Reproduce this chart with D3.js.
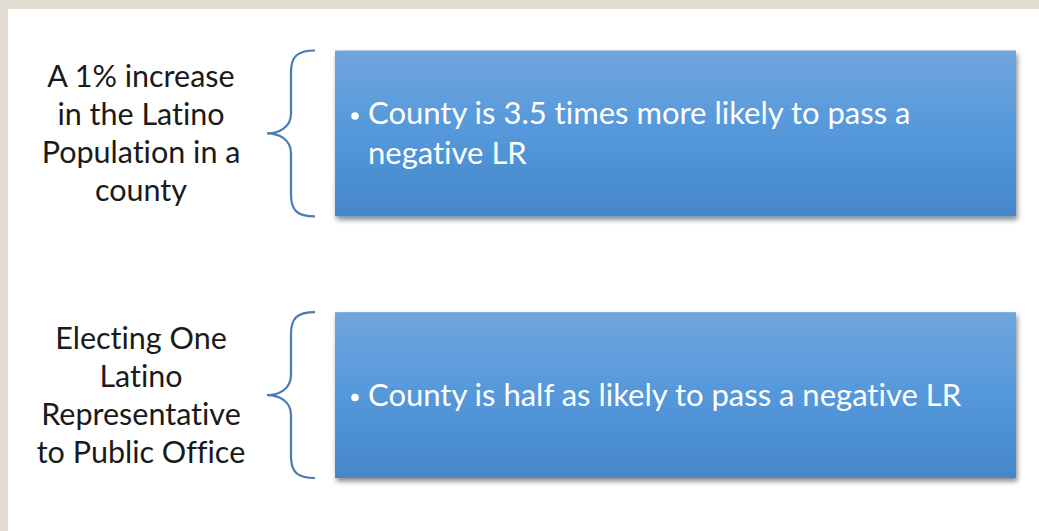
<!DOCTYPE html>
<html>
<head>
<meta charset="utf-8">
<script src="https://cdn.jsdelivr.net/npm/d3@7"></script>
<style>
  html, body { margin: 0; padding: 0; background: #e0dcd1; }
  svg { display: block; }
  text { font-variant-ligatures: none; font-feature-settings: "liga" 0, "clig" 0; }
</style>
</head>
<body>
<div id="chart"></div>
<script>
// left side labels (one entry per row, already broken into lines)
const causes = [
  ['A 1% increase', 'in the Latino', 'Population in a', 'county'],
  ['Electing One', 'Latino', 'Representative', 'to Public Office']
];
// text inside the blue boxes
const effects = [
  ['County is 3.5 times more likely to pass a', 'negative LR'],
  ['County is half as likely to pass a negative LR']
];

const width = 1039, height = 531;
const font = 'Lato, "Open Sans", sans-serif';

const svg = d3.select('#chart').append('svg')
  .attr('width', width)
  .attr('height', height);

const defs = svg.append('defs');

// box gradient
const grad = defs.append('linearGradient')
  .attr('id', 'boxGrad')
  .attr('x1', 0).attr('y1', 0).attr('x2', 0).attr('y2', 1);
grad.append('stop').attr('offset', '0%').attr('stop-color', '#70a5dd');
grad.append('stop').attr('offset', '50%').attr('stop-color', '#5498db');
grad.append('stop').attr('offset', '100%').attr('stop-color', '#4587c9');

// drop shadow
const shadow = defs.append('filter')
  .attr('id', 'shadow')
  .attr('x', '-5%').attr('y', '-10%')
  .attr('width', '115%').attr('height', '130%');
shadow.append('feDropShadow')
  .attr('dx', 1.5).attr('dy', 3.5)
  .attr('stdDeviation', 2.5)
  .attr('flood-color', '#000')
  .attr('flood-opacity', 0.45);

// white slide area
svg.append('rect')
  .attr('x', 8).attr('y', 9)
  .attr('width', width - 8).attr('height', height - 9)
  .attr('fill', '#fff');

// rows
const y = d3.scaleBand()
  .domain(d3.range(causes.length))
  .range([50.5, 478])
  .paddingInner(0.366);

const boxX = 335, boxW = 681;
const braceTip = 267, braceLine = 291, braceEnd = 315;

const rows = svg.selectAll('g.row')
  .data(d3.range(causes.length))
  .join('g')
  .attr('class', 'row');

// boxes
rows.append('rect')
  .attr('x', boxX)
  .attr('y', (i) => y(i))
  .attr('width', boxW)
  .attr('height', y.bandwidth())
  .attr('fill', 'url(#boxGrad)')
  .attr('filter', 'url(#shadow)');

// braces
rows.append('path')
  .attr('d', (i) => {
    const y0 = y(i), y1 = y(i) + y.bandwidth(), ym = (y0 + y1) / 2;
    return `M${braceEnd},${y0}` +
      `C${braceLine + 6},${y0} ${braceLine},${y0 + 6} ${braceLine},${y0 + 22}` +
      `L${braceLine},${ym - 20}` +
      `C${braceLine},${ym - 6} ${braceTip + 12},${ym} ${braceTip},${ym}` +
      `C${braceTip + 12},${ym} ${braceLine},${ym + 6} ${braceLine},${ym + 20}` +
      `L${braceLine},${y1 - 22}` +
      `C${braceLine},${y1 - 6} ${braceLine + 6},${y1} ${braceEnd},${y1}`;
  })
  .attr('fill', 'none')
  .attr('stroke', '#4a7cb3')
  .attr('stroke-width', 2.2);

// left labels
const labelGap = 38;
rows.append('text')
  .attr('text-anchor', 'middle')
  .attr('font-family', font)
  .attr('font-size', 30.5)
  .attr('fill', '#1a1a1a')
  .selectAll('tspan')
  .data((i) => causes[i].map((t, k) => ({ t, k, n: causes[i].length, i })))
  .join('tspan')
  .attr('x', 141)
  .attr('y', (d) => y(d.i) + y.bandwidth() / 2 + (d.k - (d.n - 1) / 2) * labelGap)
  .attr('dy', '0.35em')
  .text((d) => d.t);

// box text with bullet
const textGap = 40;
rows.append('circle')
  .attr('cx', 355)
  .attr('cy', (i) => y(i) + y.bandwidth() / 2 - (effects[i].length - 1) / 2 * textGap + 2.5)
  .attr('r', 3.8)
  .attr('fill', '#fff');

rows.append('text')
  .attr('font-family', font)
  .attr('font-size', 31)
  .attr('fill', '#fff')
  .selectAll('tspan')
  .data((i) => effects[i].map((t, k) => ({ t, k, n: effects[i].length, i })))
  .join('tspan')
  .attr('x', 368)
  .attr('y', (d) => y(d.i) + y.bandwidth() / 2 + (d.k - (d.n - 1) / 2) * textGap)
  .attr('dy', '0.35em')
  .text((d) => d.t);
</script>
</body>
</html>
